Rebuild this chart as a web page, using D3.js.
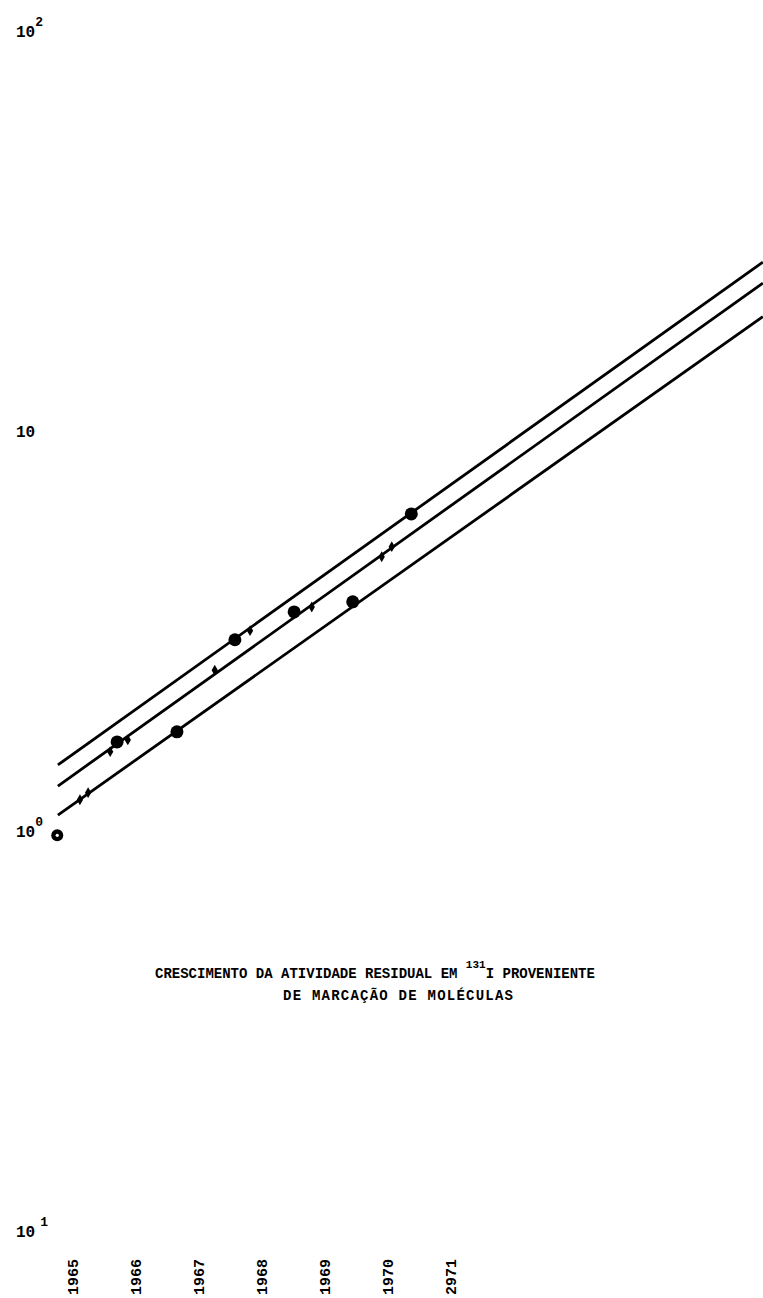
<!DOCTYPE html>
<html>
<head>
<meta charset="utf-8">
<script src="https://cdn.jsdelivr.net/npm/d3@7"></script>
<style>
  body { margin: 0; background: #fff; }
  text { font-family: "Liberation Mono", "DejaVu Sans Mono", monospace; font-weight: bold; fill: #000; }
</style>
</head>
<body>
<div id="container"></div>
<script>
let width = 763;
let height = 1298;

// x labels (typed under the chart)
var years = [1965, 1966, 1967, 1968, 1969, 1970, 1971];
var yearLabels = ["1965", "1966", "1967", "1968", "1969", "1970", "2971"];

// y labels on the log axis
var yTickValues = [100, 10, 1, 0.1];
var yTickBase = ["10", "10", "10", "10"];
var yTickSup = ["2", "", "0", "1"];

// fitted lines, value at the first and last year
var fitYears = [1964.76, 1975.95];
var fitStart = [1.454, 1.288, 1.09];
var fitEnd = [26.3, 23.3, 19.2];

// measured points
var bigYears = [1965.70, 1966.65, 1967.57, 1968.51, 1969.44, 1970.37];
var bigValues = [1.66, 1.76, 2.99, 3.51, 3.72, 6.17];
var smallYears = [1965.11, 1965.24, 1965.59, 1965.87, 1967.25, 1967.81, 1968.79, 1969.90, 1970.06];
var smallValues = [1.19, 1.24, 1.57, 1.68, 2.51, 3.15, 3.61, 4.82, 5.11];
var originYear = 1964.75;
var originValue = 0.97;

let viz = d3.select("#container").append("svg")
    .attr("width", width)
    .attr("height", height)
    .style("display", "block")
;

let x = d3.scaleLinear().domain([1965, 1971]).range([73, 451]);
let y = d3.scaleLog().domain([0.1, 100]).range([1230, 30]);

//lines
let lineMaker = d3.line()
  .x(function(d){ return x(d[0]); })
  .y(function(d){ return y(d[1]); })
;

viz.append("g")
  .selectAll("path")
  .data(fitStart.map(function(v, i){
    return [[fitYears[0], v], [fitYears[1], fitEnd[i]]];
  }))
  .enter().append("path")
    .attr("d", lineMaker)
    .attr("fill", "none")
    .attr("stroke", "#000")
    .attr("stroke-width", 2.8)
;

//small marks
viz.append("g")
  .selectAll("path")
  .data(smallYears)
  .enter().append("path")
    .attr("d", d3.symbol().type(d3.symbolDiamond).size(34))
    .attr("transform", function(d, i){
      return "translate(" + x(d) + "," + y(smallValues[i]) + ")";
    })
    .attr("fill", "#000")
;

//big dots
viz.append("g")
  .selectAll("circle")
  .data(bigYears)
  .enter().append("circle")
    .attr("cx", function(d){ return x(d); })
    .attr("cy", function(d, i){ return y(bigValues[i]); })
    .attr("r", 6.5)
    .attr("fill", "#000")
;

viz.append("circle")
  .attr("cx", x(originYear))
  .attr("cy", y(originValue))
  .attr("r", 6)
  .attr("fill", "#000")
;
viz.append("circle")
  .attr("cx", x(originYear))
  .attr("cy", y(originValue))
  .attr("r", 1.6)
  .attr("fill", "#fff")
;

//y labels
let yLab = viz.append("g")
  .selectAll("text")
  .data(yTickValues)
  .enter().append("text")
    .attr("x", 16)
    .attr("y", function(d){ return y(d) + 7; })
    .style("font-size", "16px")
;
yLab.append("tspan")
  .text(function(d, i){ return yTickBase[i]; });
yLab.append("tspan")
  .attr("dx", function(d, i){ return i == 3 ? 5 : 0; })
  .attr("dy", -11)
  .style("font-size", "13px")
  .text(function(d, i){ return yTickSup[i]; });

//year labels
viz.append("g")
  .selectAll("text")
  .data(years)
  .enter().append("text")
    .attr("transform", function(d){ return "translate(" + x(d) + ",1295) rotate(-90)"; })
    .attr("dy", "0.35em")
    .style("font-size", "15px")
    .text(function(d, i){ return yearLabels[i]; })
;

//title
let title1 = viz.append("text")
  .attr("x", 155)
  .attr("y", 978)
  .style("font-size", "14px")
;
title1.append("tspan").text("CRESCIMENTO DA ATIVIDADE RESIDUAL EM ");
title1.append("tspan").attr("dy", -10).style("font-size", "11px").text("131");
title1.append("tspan").attr("dy", 10).text("I PROVENIENTE");

viz.append("text")
  .attr("x", 283)
  .attr("y", 1000)
  .attr("textLength", 230)
  .attr("lengthAdjust", "spacing")
  .style("font-size", "14px")
  .text("DE MARCAÇÃO DE MOLÉCULAS")
;
</script>
</body>
</html>
